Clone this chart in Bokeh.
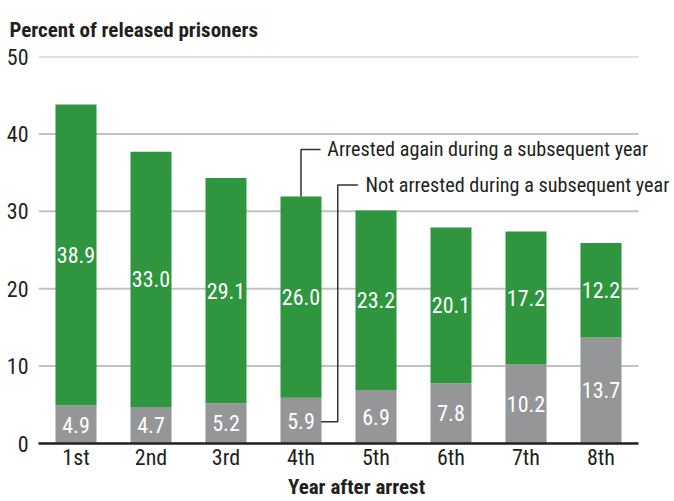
import numpy as np
from bokeh.plotting import figure
from bokeh.models import Range1d, FixedTicker, Label, ColumnDataSource, Title
from bokeh.core.properties import value
from bokeh.embed import file_html
from bokeh.resources import INLINE

# ---- data ----
years = [1, 2, 3, 4, 5, 6, 7, 8]
year_labels = ["1st", "2nd", "3rd", "4th", "5th", "6th", "7th", "8th"]
not_arrested = [4.9, 4.7, 5.2, 5.9, 6.9, 7.8, 10.2, 13.7]
arrested_again = [38.9, 33.0, 29.1, 26.0, 23.2, 20.1, 17.2, 12.2]
y_ticks = [0, 10, 20, 30, 40, 50]

FONT = "'Roboto Condensed', 'DejaVu Sans Condensed', sans-serif"
GREEN = "#2f963f"
GRAY = "#959698"
DARK = "#231f20"

na = np.array(not_arrested)
aa = np.array(arrested_again)
src = ColumnDataSource(dict(
    x=years,
    na=na,
    tot=na + aa,
    na_mid=na / 2,
    aa_mid=na + aa / 2,
    na_txt=[f"{v:.1f}" for v in not_arrested],
    aa_txt=[f"{v:.1f}" for v in arrested_again],
))

W, H = 674, 501
LEFT, TOP, BOTTOM = 38, 55, 58
PX_PER_UNIT = 75.0
x_end = 0.5 + (W - LEFT) / PX_PER_UNIT

p = figure(width=W, height=H, output_backend="svg", toolbar_location=None,
           x_range=Range1d(0.5, x_end), y_range=Range1d(0, 50),
           min_border_left=LEFT, min_border_right=0, min_border_top=TOP,
           min_border_bottom=BOTTOM)
p.outline_line_color = None
p.background_fill_color = "white"
p.xgrid.grid_line_color = None
p.ygrid.grid_line_color = None

# horizontal gridlines (limited to the bar area)
p.segment(x0=0.5, x1=8.5, y0=y_ticks, y1=y_ticks, line_color="#c2c2c2", line_width=2)

BW = 0.547
p.vbar(x="x", bottom=0, top="na", width=BW, source=src, fill_color=GRAY, line_color=None)
p.vbar(x="x", bottom="na", top="tot", width=BW, source=src, fill_color=GREEN, line_color=None)

p.text(x="x", y="na_mid", text="na_txt", source=src, text_color="white",
       text_font=value(FONT), text_font_size="22px", text_align="center",
       text_baseline="middle")
p.text(x="x", y="aa_mid", text="aa_txt", source=src, text_color="white",
       text_font=value(FONT), text_font_size="22px", text_align="center",
       text_baseline="middle")

# axes
p.xaxis.ticker = FixedTicker(ticks=years)
p.xaxis.major_label_overrides = {y: l for y, l in zip(years, year_labels)}
p.xaxis.bounds = (0.5, 8.5)
p.xaxis.axis_line_color = "#222222"
p.xaxis.axis_line_width = 2.5
p.xaxis.major_tick_line_color = None
p.xaxis.minor_tick_line_color = None
p.xaxis.major_tick_out = 0
p.xaxis.major_tick_in = 0
p.xaxis.major_label_standoff = 1
p.xaxis.major_label_text_font = FONT
p.xaxis.major_label_text_font_size = "22px"
p.xaxis.major_label_text_color = DARK

p.yaxis.ticker = FixedTicker(ticks=y_ticks)
p.yaxis.axis_line_color = None
p.yaxis.major_tick_line_color = None
p.yaxis.minor_tick_line_color = None
p.yaxis.major_tick_out = 0
p.yaxis.major_tick_in = 0
p.yaxis.major_label_standoff = 10
p.yaxis.major_label_text_font = FONT
p.yaxis.major_label_text_font_size = "22px"
p.yaxis.major_label_text_color = DARK

# callout lines
p.line(x=[4.0, 4.0, 4.26], y=[31.9, 38.0, 38.0], line_color="#333333", line_width=1.5)
p.line(x=[4.27, 4.49, 4.49, 4.76], y=[2.8, 2.8, 33.4, 33.4], line_color="#333333", line_width=1.5)

p.add_layout(Label(x=4.35, y=38.0, text="Arrested again during a subsequent year",
                   text_font=FONT, text_font_size="20.2px", text_color=DARK,
                   text_baseline="middle", text_align="left"))
p.add_layout(Label(x=4.86, y=33.4, text="Not arrested during a subsequent year",
                   text_font=FONT, text_font_size="20.2px", text_color=DARK,
                   text_baseline="middle", text_align="left"))

# title and x label
p.title = Title(text="Percent of released prisoners", align="left", offset=-29,
                standoff=30, text_font=FONT, text_font_size="21px",
                text_font_style="bold", text_color=DARK)
p.add_layout(Title(text="Year after arrest", align="center", offset=13, standoff=1,
                   text_font=FONT, text_font_size="21px", text_font_style="bold",
                   text_color=DARK), "below")

open("out.html", "w").write(file_html(p, INLINE))
